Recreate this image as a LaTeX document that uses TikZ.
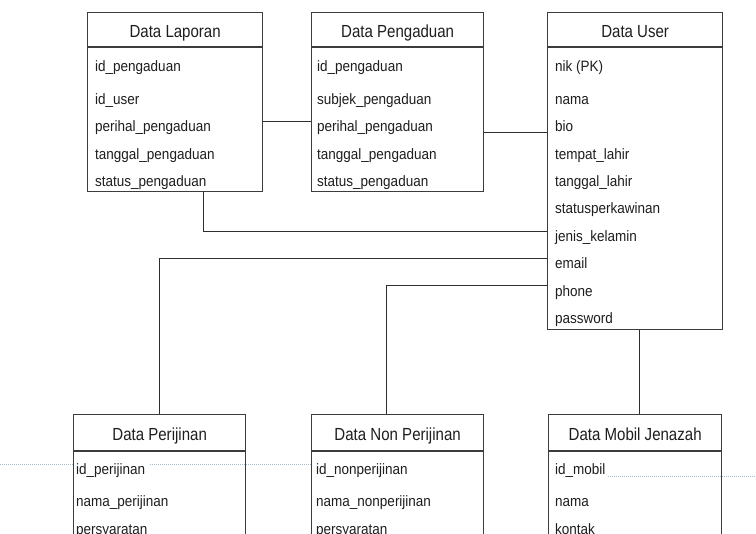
\documentclass[tikz,border=0pt]{standalone}
\usepackage{fontspec}
\setmainfont{Liberation Sans}
\newfontfamily\headfont[FakeStretch=0.86]{Liberation Sans}
\newfontfamily\fieldfont[FakeStretch=0.9]{Liberation Sans}
\definecolor{boxline}{HTML}{3C3C3C}
\definecolor{linkc}{HTML}{2E2E2E}
\definecolor{ink}{HTML}{1E1E1E}
\definecolor{dotc}{HTML}{A3BDCE}
\begin{document}
\begin{tikzpicture}[x=1pt,y=-1pt,
  entity/.style={draw=boxline, line width=1.3pt, fill=white, inner sep=0pt,
    anchor=north west, minimum width=#1},
  title/.style={font=\headfont\fontsize{17.5}{19}\selectfont, text=ink, inner sep=0pt, anchor=base},
  attr/.style={font=\fieldfont\fontsize{15}{17}\selectfont, text=ink, inner sep=0pt, anchor=base west},
  sepline/.style={draw=boxline, line width=1.3pt},
  link/.style={draw=linkc, line width=1pt},
  pagemark/.style={draw=dotc, line width=1pt, dash pattern=on 1pt off 1pt}]
\useasboundingbox (0,0) rectangle (756,534);
\clip (0,0) rectangle (756,534);
\fill[white] (0,0) rectangle (756,534);

% ---------- entities, upper row ----------
\node[entity=175pt, minimum height=179pt] (lap) at (87,12) {};
\draw[sepline] (lap.west |- 0,47) -- (lap.east |- 0,47);
\node[title] (lapT) at (lap.north |- 0,37.5) {Data Laporan};
\node[attr] (lap1) at (95,72)    {id\_pengaduan};
\node[attr] (lap2) at (95,104.3) {id\_user};
\node[attr] (lap3) at (95,131.7) {perihal\_pengaduan};
\node[attr] (lap4) at (95,159.1) {tanggal\_pengaduan};
\node[attr] (lap5) at (95,186.5) {status\_pengaduan};

\node[entity=172pt, minimum height=179pt] (peng) at (311,12) {};
\draw[sepline] (peng.west |- 0,47) -- (peng.east |- 0,47);
\node[title] (pengT) at (peng.north |- 0,37.5) {Data Pengaduan};
\node[attr] (peng1) at (317,72)    {id\_pengaduan};
\node[attr] (peng2) at (317,104.3) {subjek\_pengaduan};
\node[attr] (peng3) at (317,131.7) {perihal\_pengaduan};
\node[attr] (peng4) at (317,159.1) {tanggal\_pengaduan};
\node[attr] (peng5) at (317,186.5) {status\_pengaduan};

\node[entity=175pt, minimum height=317pt] (usr) at (547,12) {};
\draw[sepline] (usr.west |- 0,47) -- (usr.east |- 0,47);
\node[title] (usrT) at (usr.north |- 0,37.5) {Data User};
\node[attr] (usr1)  at (555,72)    {nik (PK)};
\node[attr] (usr2)  at (555,104.3) {nama};
\node[attr] (usr3)  at (555,131.7) {bio};
\node[attr] (usr4)  at (555,159.1) {tempat\_lahir};
\node[attr] (usr5)  at (555,186.5) {tanggal\_lahir};
\node[attr] (usr6)  at (555,213.9) {statusperkawinan};
\node[attr] (usr7)  at (555,241.3) {jenis\_kelamin};
\node[attr] (usr8)  at (555,268.7) {email};
\node[attr] (usr9)  at (555,296.1) {phone};
\node[attr] (usr10) at (555,323.5) {password};

% ---------- page-break marks ----------
\draw[pagemark] (0,465) -- (73,465);
\draw[pagemark] (150,465) -- (311,465);
\draw[pagemark] (608,477) -- (756,477);

% ---------- entities, lower row ----------
\node[entity=172pt, minimum height=160pt, fill=none] (per) at (73,414) {};
\draw[sepline] (per.west |- 0,451) -- (per.east |- 0,451);
\node[title] (perT) at (per.north |- 0,440.5) {Data Perijinan};
\node[attr] (per1) at (76,475)   {id\_perijinan};
\node[attr] (per2) at (76,507)   {nama\_perijinan};
\node[attr] (per3) at (76,534.5) {persyaratan};

\node[entity=172pt, minimum height=160pt] (non) at (311,414) {};
\draw[sepline] (non.west |- 0,451) -- (non.east |- 0,451);
\node[title] (nonT) at (non.north |- 0,440.5) {Data Non Perijinan};
\node[attr] (non1) at (316,475)   {id\_nonperijinan};
\node[attr] (non2) at (316,507)   {nama\_nonperijinan};
\node[attr] (non3) at (316,534.5) {persyaratan};

\node[entity=173pt, minimum height=160pt, fill=none] (mob) at (548,414) {};
\draw[sepline] (mob.west |- 0,451) -- (mob.east |- 0,451);
\node[title] (mobT) at (mob.north |- 0,440.5) {Data Mobil Jenazah};
\node[attr] (mob1) at (555,475)   {id\_mobil};
\node[attr] (mob2) at (555,507)   {nama};
\node[attr] (mob3) at (555,534.5) {kontak};

% ---------- relationships ----------
\draw[link] (lap.east |- 0,122) -- (peng.west |- 0,122);
\draw[link] (peng.east |- 0,133) -- (usr.west |- 0,133);
\draw[link] (lap.south -| 203,0) |- (usr.west |- 0,232);
\draw[link] (usr.west |- 0,259) -| (per.north);
\draw[link] (usr.west |- 0,286) -| (non.north -| 386,0);
\draw[link] (usr.south -| 639,0) -- (mob.north -| 639,0);
\end{tikzpicture}
\end{document}
